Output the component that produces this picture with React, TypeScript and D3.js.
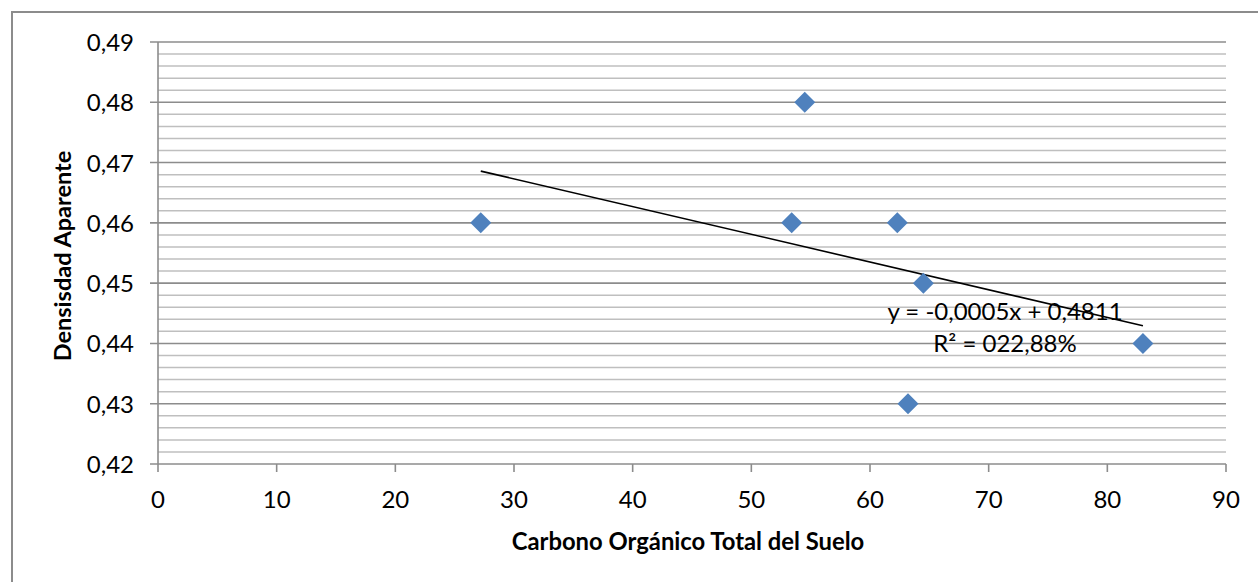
import * as d3 from "d3";

// carbono organico total (x) vs densidad aparente (y)
const carbono = [27.2, 54.5, 53.4, 62.3, 64.5, 83.0, 63.2];
const densidad = [0.46, 0.48, 0.46, 0.46, 0.45, 0.44, 0.43];
const xTicks = [0, 10, 20, 30, 40, 50, 60, 70, 80, 90];
const yTicks = [0.42, 0.43, 0.44, 0.45, 0.46, 0.47, 0.48, 0.49];
const ecuacion = "y = -0,0005x + 0,4811";
const r2Label = "R² = 022,88%";

const W = 1258;
const H = 582;
const margin = { top: 42, right: 32, bottom: 118, left: 158 };
const FONT = "Lato, 'Open Sans', sans-serif";

export default function App() {
  const x = d3
    .scaleLinear()
    .domain([0, 90])
    .range([margin.left, W - margin.right]);
  const y = d3
    .scaleLinear()
    .domain([0.42, 0.49])
    .range([H - margin.bottom, margin.top]);

  // minor gridlines every 0.002
  const minor = d3.range(0, 36).map((i) => 0.42 + i * 0.002).filter((v, i) => i % 5 !== 0);

  // least squares trendline
  const mx = d3.mean(carbono)!;
  const my = d3.mean(densidad)!;
  const sxy = d3.sum(carbono, (c, i) => (c - mx) * (densidad[i] - my));
  const sxx = d3.sum(carbono, (c) => (c - mx) ** 2);
  const slope = sxy / sxx;
  const icpt = my - slope * mx;
  const x0 = d3.min(carbono)!;
  const x1 = d3.max(carbono)!;

  const fmt = (v: number) => v.toFixed(2).replace(".", ",");
  const bottom = y(0.42);
  const d = 10.5;

  return (
    <svg
      width={W}
      height={H}
      style={{ position: "absolute", left: 0, top: 0, background: "#fff" }}
      fontFamily={FONT}
    >
      <rect x={12} y={12} width={W + 20} height={H + 20} fill="#fff" stroke="#8c8c8c" strokeWidth={2} />

      {minor.map((v) => (
        <line key={"m" + v} x1={x(0)} x2={x(90)} y1={y(v)} y2={y(v)} stroke="#bfbfbf" strokeWidth={1.5} />
      ))}
      {yTicks.map((v) => (
        <g key={"y" + v}>
          <line x1={x(0) - 8} x2={x(90)} y1={y(v)} y2={y(v)} stroke="#8c8c8c" strokeWidth={1.6} />
          <text x={x(0) - 24} y={y(v) + 9} textAnchor="end" fontSize={24} fill="#000">
            {fmt(v)}
          </text>
        </g>
      ))}
      <line x1={x(0)} x2={x(0)} y1={y(0.49)} y2={bottom} stroke="#8c8c8c" strokeWidth={1.6} />
      {xTicks.map((v) => (
        <g key={"x" + v}>
          <line x1={x(v)} x2={x(v)} y1={bottom} y2={bottom + 8} stroke="#8c8c8c" strokeWidth={1.6} />
          <text x={x(v)} y={bottom + 44} textAnchor="middle" fontSize={24} fill="#000">
            {v}
          </text>
        </g>
      ))}

      <line
        x1={x(x0)}
        x2={x(x1)}
        y1={y(icpt + slope * x0)}
        y2={y(icpt + slope * x1)}
        stroke="#000"
        strokeWidth={1.6}
      />

      {carbono.map((c, i) => {
        const cx = x(c);
        const cy = y(densidad[i]);
        return (
          <path
            key={"p" + i}
            d={`M${cx},${cy - d}L${cx + d},${cy}L${cx},${cy + d}L${cx - d},${cy}Z`}
            fill="#4f81bd"
          />
        );
      })}

      <text x={1005} y={320} textAnchor="middle" fontSize={24} fill="#000">
        {ecuacion}
      </text>
      <text x={1005} y={352} textAnchor="middle" fontSize={24} fill="#000">
        {r2Label}
      </text>

      <text
        x={(x(0) + x(90)) / 2 - 4}
        y={550}
        textAnchor="middle"
        fontSize={23.8}
        fontWeight="bold"
        fill="#000"
      >
        Carbono Orgánico Total del Suelo
      </text>
      <text
        transform={`translate(71,${(y(0.42) + y(0.49)) / 2 + 3}) rotate(-90)`}
        textAnchor="middle"
        fontSize={23.5}
        fontWeight="bold"
        fill="#000"
      >
        Densisdad Aparente
      </text>
    </svg>
  );
}
